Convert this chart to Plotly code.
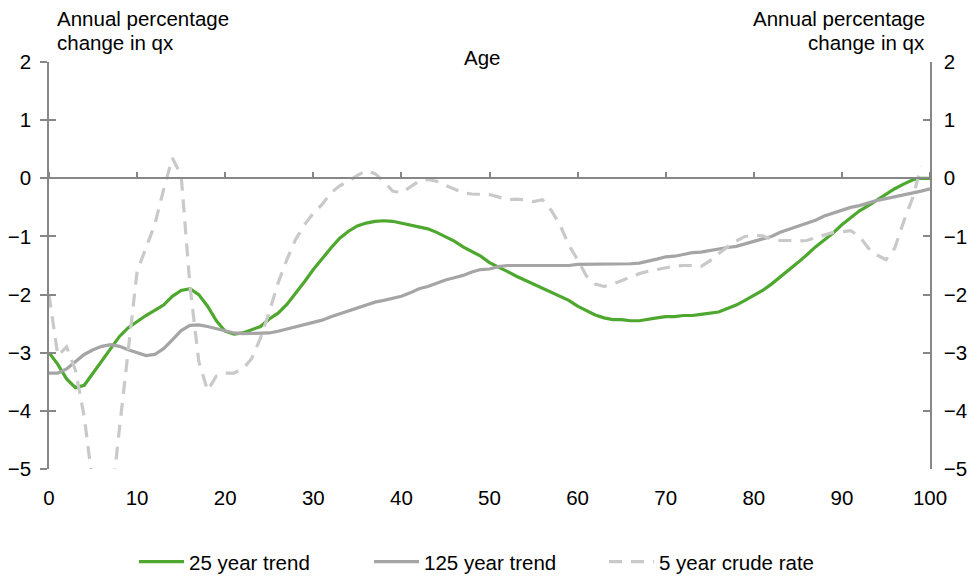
import plotly.graph_objects as go

# Age 0..100
ages = list(range(0, 101))

# Annual percentage change in qx, 25 year trend
trend_25 = [
    -3.00, -3.20, -3.45, -3.60, -3.56, -3.35, -3.12, -2.92, -2.72, -2.57,
    -2.46, -2.36, -2.27, -2.18, -2.03, -1.93, -1.90, -2.00, -2.20, -2.45,
    -2.63, -2.68, -2.66, -2.60, -2.55, -2.42, -2.32, -2.17, -1.98, -1.78,
    -1.57, -1.38, -1.20, -1.03, -0.91, -0.82, -0.77, -0.74, -0.73, -0.74,
    -0.77, -0.80, -0.84, -0.87, -0.93, -1.00, -1.08, -1.18, -1.26, -1.34,
    -1.45, -1.52, -1.60, -1.68, -1.75, -1.82, -1.89, -1.96, -2.03, -2.10,
    -2.20, -2.28, -2.35, -2.40, -2.43, -2.43, -2.45, -2.45, -2.42, -2.40,
    -2.38, -2.38, -2.36, -2.36, -2.34, -2.32, -2.30, -2.24, -2.18, -2.10,
    -2.02, -1.93, -1.82, -1.70, -1.58, -1.45, -1.32, -1.18, -1.06, -0.94,
    -0.80, -0.68, -0.56, -0.47, -0.37, -0.28, -0.18, -0.10, -0.03, 0.00,
    0.00,
]

# 125 year trend
trend_125 = [
    -3.35, -3.35, -3.28, -3.15, -3.03, -2.95, -2.89, -2.86, -2.89, -2.95,
    -3.00, -3.05, -3.03, -2.93, -2.78, -2.62, -2.53, -2.52, -2.55, -2.59,
    -2.63, -2.66, -2.67, -2.67, -2.66, -2.66, -2.63, -2.59, -2.55, -2.52,
    -2.48, -2.44, -2.38, -2.33, -2.27, -2.23, -2.18, -2.13, -2.10, -2.06,
    -2.03, -1.97, -1.90, -1.86, -1.80, -1.75, -1.71, -1.67, -1.61, -1.57,
    -1.56, -1.52, -1.50, -1.50, -1.50, -1.50, -1.50, -1.50, -1.50, -1.50,
    -1.48, -1.48, -1.48, -1.48, -1.48, -1.47, -1.47, -1.46, -1.43, -1.39,
    -1.35, -1.34, -1.31, -1.28, -1.27, -1.24, -1.22, -1.19, -1.17, -1.13,
    -1.09, -1.05, -1.00, -0.93, -0.88, -0.82, -0.77, -0.72, -0.65, -0.60,
    -0.55, -0.50, -0.47, -0.42, -0.38, -0.35, -0.32, -0.29, -0.26, -0.22,
    -0.18,
]

# 5 year crude rate (ages 0..99)
crude_5 = [
    -2.00, -3.05, -2.90, -3.30, -4.10, -5.30, -5.80, -5.70, -4.30, -2.90,
    -1.60, -1.20, -0.80, -0.20, 0.35, 0.05, -1.85, -3.15, -3.65, -3.40,
    -3.35, -3.35, -3.28, -3.10, -2.75, -2.30, -1.80, -1.40, -1.05, -0.80,
    -0.60, -0.45, -0.25, -0.13, -0.05, 0.05, 0.13, 0.08, -0.05, -0.22,
    -0.25, -0.15, -0.05, -0.02, -0.05, -0.12, -0.18, -0.25, -0.27, -0.28,
    -0.28, -0.32, -0.37, -0.36, -0.37, -0.40, -0.37, -0.55, -0.80, -1.15,
    -1.40, -1.68, -1.82, -1.86, -1.82, -1.76, -1.70, -1.64, -1.60, -1.57,
    -1.54, -1.51, -1.50, -1.50, -1.52, -1.42, -1.30, -1.18, -1.08, -1.00,
    -0.98, -0.99, -1.05, -1.07, -1.07, -1.08, -1.07, -1.02, -0.97, -0.93,
    -0.92, -0.90, -1.00, -1.20, -1.32, -1.40, -1.20, -0.75, -0.35, 0.20,
]

y_ticks = [-5, -4, -3, -2, -1, 0, 1, 2]
x_ticks = list(range(0, 101, 10))

AXIS = "#878787"
FONT = "Liberation Sans, Arial, sans-serif"
FS = 20.5

fig = go.Figure()
fig.add_trace(go.Scatter(x=ages, y=trend_25, mode="lines", name="25 year trend",
                         line=dict(color="#4EA72E", width=3.2)))
fig.add_trace(go.Scatter(x=ages, y=trend_125, mode="lines", name="125 year trend",
                         line=dict(color="#A5A5A5", width=3.2)))
fig.add_trace(go.Scatter(x=ages[:len(crude_5)], y=crude_5, mode="lines",
                         name="5 year crude rate",
                         line=dict(color="#C9C9C9", width=3.2, dash="13px,9px")))

fig.update_layout(
    width=972, height=577,
    margin=dict(l=49, r=42, t=62, b=108, autoexpand=False),
    paper_bgcolor="white", plot_bgcolor="white",
    font=dict(family=FONT, size=FS, color="black"),
    showlegend=True,
    legend=dict(orientation="h", x=0.0965, xanchor="left", y=-0.228, yanchor="middle",
                font=dict(size=FS), itemwidth=45, entrywidth=175,
                traceorder="normal"),
    # bottom axis: labels only
    xaxis=dict(range=[0, 100], tickvals=x_ticks, showline=False, showgrid=False,
               zeroline=False, ticks="outside", ticklen=10, tickcolor="rgba(0,0,0,0)",
               tickfont=dict(size=FS)),
    # axis line drawn through zero, ticks pointing up
    xaxis2=dict(range=[0, 100], tickvals=x_ticks, overlaying="x", anchor="free",
                position=5 / 7, side="top", showline=True, linecolor=AXIS,
                linewidth=1.5, ticks="outside", ticklen=6, tickcolor=AXIS,
                tickwidth=1.5, showticklabels=False, showgrid=False, zeroline=False),
    yaxis=dict(range=[-5, 2], tickvals=y_ticks, showline=True, linecolor=AXIS,
               linewidth=1.5, ticks="outside", ticklen=7, tickcolor=AXIS,
               tickwidth=1.5, showgrid=False, zeroline=False,
               tickfont=dict(size=FS), ticklabelstandoff=5),
    yaxis2=dict(range=[-5, 2], tickvals=y_ticks, overlaying="y", side="right",
                showline=True, linecolor=AXIS, linewidth=1.5, ticks="inside",
                ticklen=7, tickcolor=AXIS, tickwidth=1.5, showgrid=False,
                zeroline=False, tickfont=dict(size=FS), ticklabelstandoff=8),
    yaxis3=dict(range=[-5, 2], tickvals=y_ticks, overlaying="y", side="left",
                showline=False, ticks="inside", ticklen=7, tickcolor=AXIS,
                tickwidth=1.5, showticklabels=False, showgrid=False, zeroline=False),
)

# empty helper traces so the overlay axes are rendered
fig.add_trace(go.Scatter(x=[None], y=[None], xaxis="x2", yaxis="y2",
                         showlegend=False, hoverinfo="skip"))
fig.add_trace(go.Scatter(x=[None], y=[None], xaxis="x", yaxis="y3",
                         showlegend=False, hoverinfo="skip"))

# axis titles placed above the plot area
plot_h = 577 - 62 - 108
def py(pixel_y):
    return (577 - 108 - pixel_y) / plot_h

for line_text, yc in (("Annual percentage", 18), ("change in qx", 42)):
    fig.add_annotation(text=line_text, xref="paper", yref="paper",
                       x=0.007, y=py(yc), xanchor="left", yanchor="middle",
                       showarrow=False, font=dict(size=FS))
    fig.add_annotation(text=line_text, xref="paper", yref="paper",
                       x=0.997, y=py(yc), xanchor="right", yanchor="middle",
                       showarrow=False, font=dict(size=FS))
fig.add_annotation(text="Age", xref="paper", yref="paper", x=0.4915, y=py(57),
                   xanchor="center", yanchor="middle", showarrow=False,
                   font=dict(size=FS))

fig.write_html("out.html")
